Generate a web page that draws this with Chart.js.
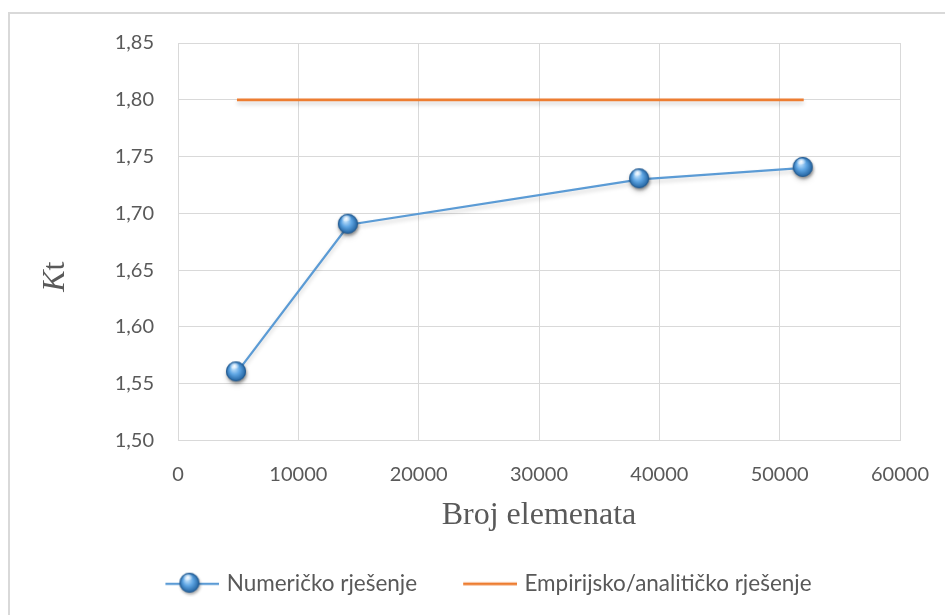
<!DOCTYPE html>
<html>
<head>
<meta charset="utf-8">
<script src="https://cdn.jsdelivr.net/npm/chart.js@4"></script>
<style>
  body { margin: 0; background: #fff; overflow: hidden; }
  #frame { position: absolute; left: 8px; top: 12px; width: 1000px; height: 700px; border: 2px solid #d9d9d9; }
  #wrap { position: absolute; left: 0; top: 0; width: 945px; height: 615px; }
</style>
</head>
<body>
<div id="frame"></div>
<div id="wrap"><canvas id="chart" width="945" height="615"></canvas></div>
<script>
// data
const elementi = [4900, 14200, 38400, 52000];
const numericko = [1.56, 1.69, 1.73, 1.74];
const empirijsko = [1.80, 1.80, 1.80, 1.80];
const xTicks = [0, 10000, 20000, 30000, 40000, 50000, 60000];
const yTicks = [1.50, 1.55, 1.60, 1.65, 1.70, 1.75, 1.80, 1.85];

const BLUE = '#5b9bd5';
const ORANGE = '#ed7d31';
const TXT = '#595959';
const GRID = '#d9d9d9';
const SANS = 'Lato';
const SERIF = '"Liberation Serif"';

// glossy sphere marker
function drawSphere(ctx, cx, cy, r) {
    ctx.save();
    ctx.shadowColor = 'rgba(0,0,0,0.35)';
    ctx.shadowBlur = 3;
    ctx.shadowOffsetX = 1;
    ctx.shadowOffsetY = 2;
    const g = ctx.createRadialGradient(cx - r * 0.25, cy - r * 0.35, r * 0.1, cx, cy, r);
    g.addColorStop(0, '#bfe0fb');
    g.addColorStop(0.45, '#5fa6e4');
    g.addColorStop(1, '#1f5f9c');
    ctx.beginPath();
    ctx.arc(cx, cy, r, 0, Math.PI * 2);
    ctx.fillStyle = g;
    ctx.fill();
    ctx.restore();
    ctx.beginPath();
    ctx.arc(cx, cy, r - 0.5, 0, Math.PI * 2);
    ctx.strokeStyle = 'rgba(30,80,130,0.6)';
    ctx.lineWidth = 1;
    ctx.stroke();
    const h = ctx.createRadialGradient(cx - r * 0.15, cy - r * 0.55, 0, cx - r * 0.15, cy - r * 0.55, r * 0.5);
    h.addColorStop(0, 'rgba(255,255,255,0.95)');
    h.addColorStop(1, 'rgba(255,255,255,0)');
    ctx.beginPath();
    ctx.ellipse(cx - r * 0.15, cy - r * 0.55, r * 0.5, r * 0.3, 0, 0, Math.PI * 2);
    ctx.fillStyle = h;
    ctx.fill();
}

function sphereImg(r) {
    const c = document.createElement('canvas');
    c.width = c.height = Math.ceil(r * 2 + 8);
    drawSphere(c.getContext('2d'), r + 3, r + 3, r);
    return c;
}

// legend swatch: blank on the left, line (and sphere) on the right
function legendImg(w, lineLen, color, width, withSphere) {
    const c = document.createElement('canvas');
    c.width = w; c.height = 26;
    const ctx = c.getContext('2d');
    ctx.beginPath();
    ctx.moveTo(w - lineLen, 13);
    ctx.lineTo(w, 13);
    ctx.strokeStyle = color;
    ctx.lineWidth = width;
    ctx.stroke();
    if (withSphere) drawSphere(ctx, w - lineLen / 2 - 3, 12, 10);
    return c;
}

const marker = sphereImg(10);
const LEG_W = 86;
const leg1 = legendImg(LEG_W + 8, 54, BLUE, 2.25, true);
const leg2 = legendImg(LEG_W + 8, 54, ORANGE, 2.75, false);

const fmt = v => v.toFixed(2).replace('.', ',');

const lineShadow = {
    id: 'lineShadow',
    beforeDatasetDraw(chart) {
        const ctx = chart.ctx;
        ctx.save();
        ctx.shadowColor = 'rgba(0,0,0,0.18)';
        ctx.shadowBlur = 4;
        ctx.shadowOffsetY = 3;
    },
    afterDatasetDraw(chart) {
        chart.ctx.restore();
    }
};

// y title "Kt" with italic K
const yTitle = {
    id: 'yTitle',
    afterDraw(chart) {
        const ctx = chart.ctx;
        const a = chart.chartArea;
        ctx.save();
        ctx.translate(56, (a.top + a.bottom) / 2 + 35);
        ctx.rotate(-Math.PI / 2);
        ctx.fillStyle = TXT;
        ctx.textBaseline = 'middle';
        ctx.textAlign = 'left';
        ctx.font = 'italic 32px ' + SERIF;
        const kw = ctx.measureText('K').width;
        ctx.font = '32px ' + SERIF;
        const tw = ctx.measureText('t').width;
        const x = -(kw + tw) / 2;
        ctx.font = 'italic 32px ' + SERIF;
        ctx.fillText('K', x, 0);
        ctx.font = '32px ' + SERIF;
        ctx.fillText('t', x + kw, 0);
        ctx.restore();
    }
};

const LEFT_PAD = 41;

new Chart(document.getElementById('chart').getContext('2d'), {
    type: 'line',
    data: {
        labels: elementi,
        datasets: [{
            label: 'Numeričko rješenje',
            data: elementi.map((x, i) => ({ x: x, y: numericko[i] })),
            borderColor: BLUE,
            borderWidth: 2.25,
            pointStyle: marker,
            pointRadius: 10,
            pointHoverRadius: 10,
            tension: 0
        }, {
            label: 'Empirijsko/analitičko rješenje',
            data: elementi.map((x, i) => ({ x: x, y: empirijsko[i] })),
            borderColor: ORANGE,
            borderWidth: 2.75,
            pointRadius: 0,
            tension: 0
        }]
    },
    options: {
        responsive: false,
        animation: false,
        layout: { padding: { left: LEFT_PAD, right: 45, top: 43, bottom: 10 } },
        scales: {
            x: {
                type: 'linear',
                min: 0,
                max: 60000,
                afterBuildTicks: s => { s.ticks = xTicks.map(v => ({ value: v })); },
                afterFit: s => { s.height = 122; s.paddingLeft = 0; s.paddingRight = 0; },
                grid: { color: GRID, drawTicks: false },
                border: { color: GRID },
                ticks: {
                    padding: 22,
                    color: TXT,
                    font: { family: SANS, size: 20 },
                    callback: v => String(v)
                },
                title: {
                    display: true,
                    text: 'Broj elemenata',
                    color: TXT,
                    font: { family: 'Liberation Serif', size: 32 },
                    padding: { top: 0, bottom: 28 }
                }
            },
            y: {
                min: 1.5,
                max: 1.85,
                afterBuildTicks: s => { s.ticks = yTicks.map(v => ({ value: v })); },
                afterFit: s => { s.width = 178 - LEFT_PAD; },
                grid: { color: GRID, drawTicks: false },
                border: { color: GRID },
                ticks: {
                    padding: 24,
                    color: TXT,
                    font: { family: SANS, size: 20 },
                    callback: v => fmt(v)
                }
            }
        },
        plugins: {
            tooltip: { enabled: false },
            legend: {
                position: 'bottom',
                labels: {
                    usePointStyle: true,
                    pointStyleWidth: LEG_W,
                    padding: 10,
                    color: TXT,
                    font: { family: SANS, size: 22.5 },
                    generateLabels: chart => chart.data.datasets.map((d, i) => ({
                        text: d.label,
                        pointStyle: i === 0 ? leg1 : leg2,
                        fillStyle: d.borderColor,
                        strokeStyle: d.borderColor,
                        lineWidth: 0,
                        fontColor: TXT,
                        hidden: false,
                        datasetIndex: i
                    }))
                }
            }
        }
    },
    plugins: [lineShadow, yTitle]
});
</script>
</body>
</html>
